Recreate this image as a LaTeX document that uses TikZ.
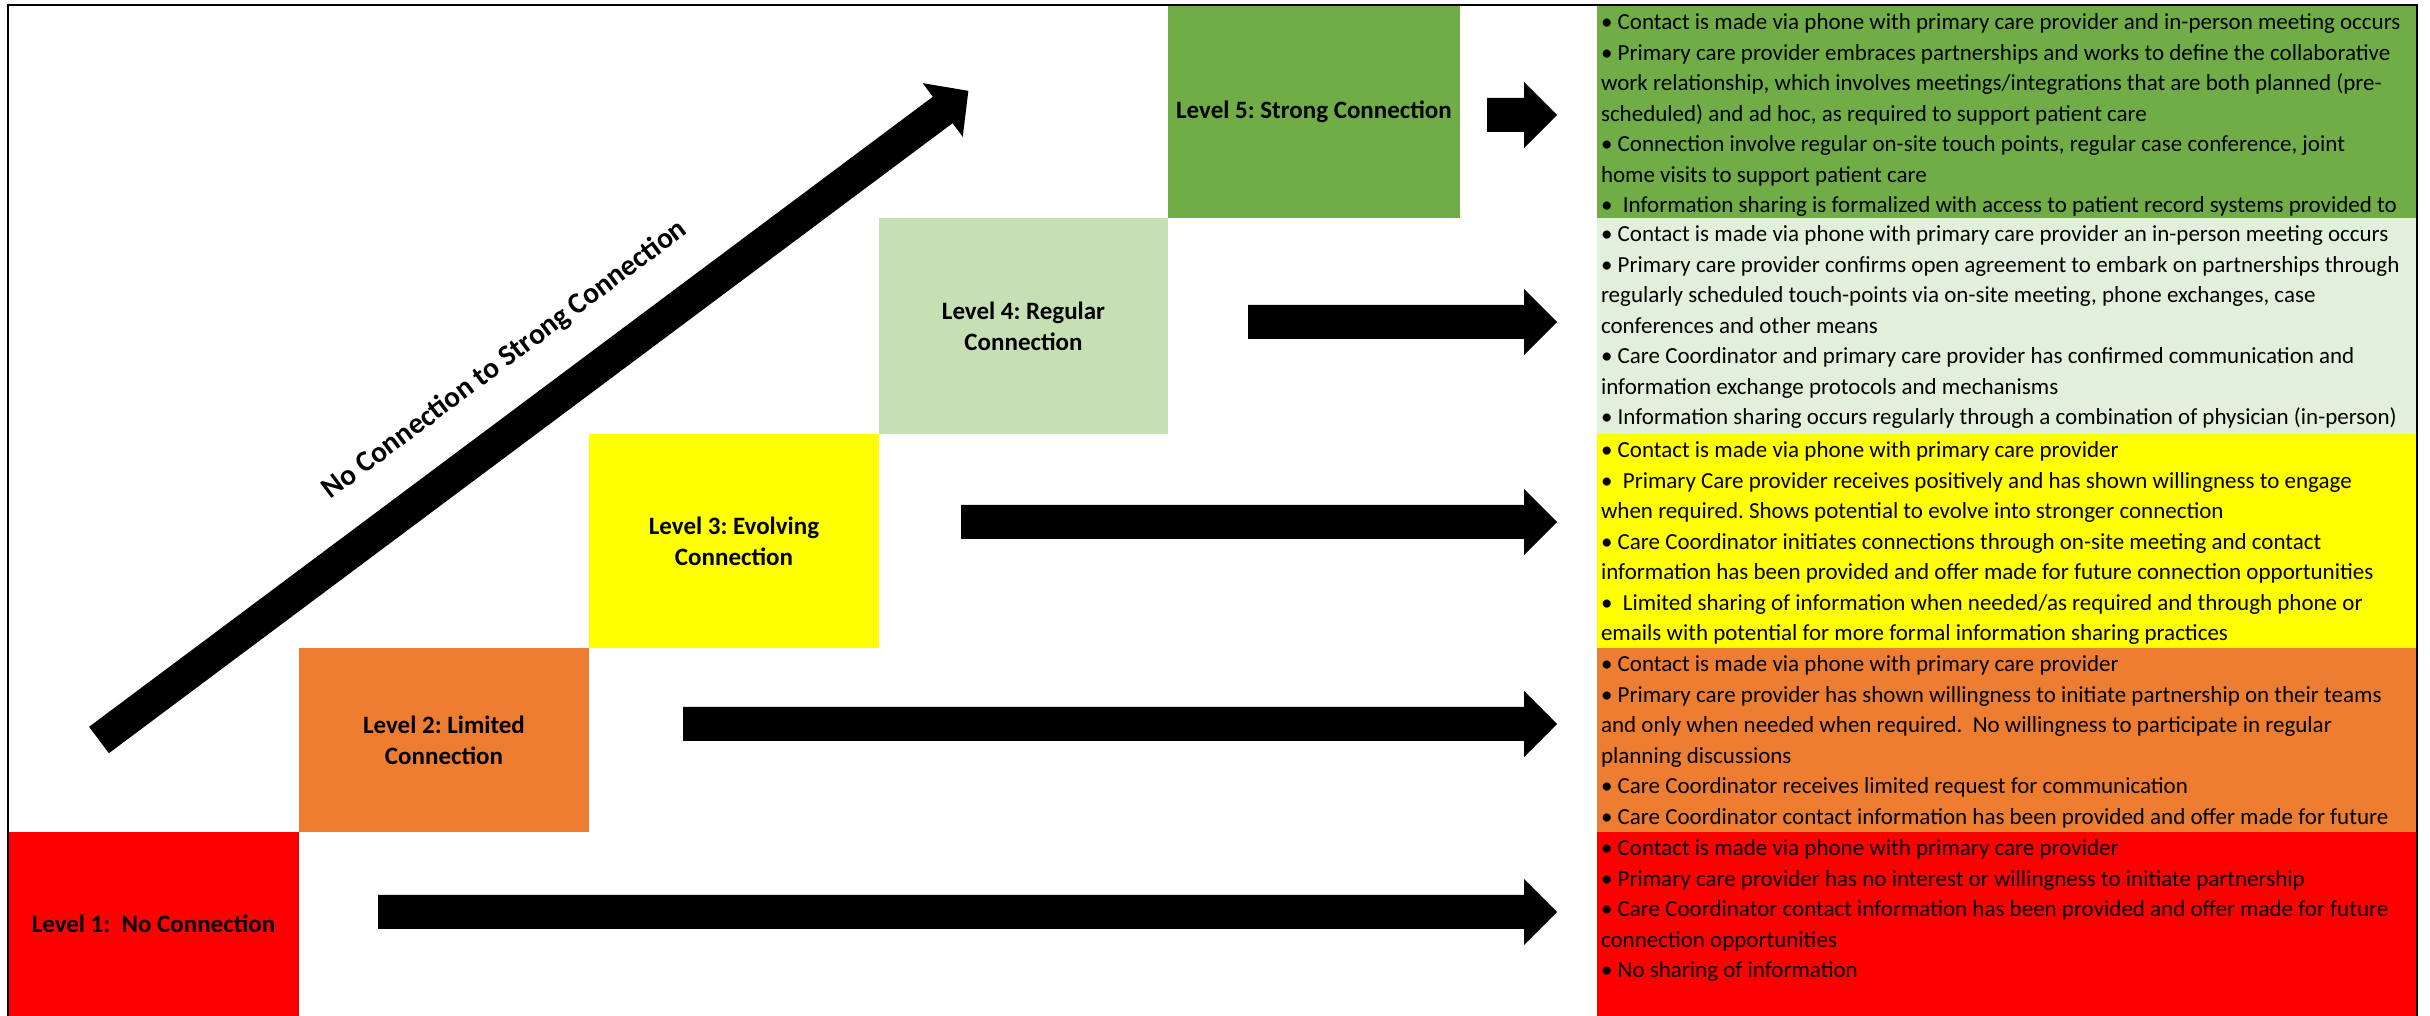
\documentclass[tikz,border=0pt]{standalone}
\usepackage{fontspec}
\setmainfont{Carlito}
\usetikzlibrary{calc}
\definecolor{cred}{HTML}{FF0000}
\definecolor{corange}{HTML}{ED7D31}
\definecolor{cyellow}{HTML}{FFFF00}
\definecolor{clgreen}{HTML}{C6E0B4}
\definecolor{clgreenT}{HTML}{E2EFDA}
\definecolor{cgreen}{HTML}{70AD47}
\frenchspacing
\newcommand\fl{\rule{0pt}{20pt}}
\newcommand\hblock[2]{\fill ($(#1)+(0,17)$) -- ($(#2)+(-33,17)$) -- ($(#2)+(-33,33)$) -- (#2) -- ($(#2)+(-33,-33)$) -- ($(#2)+(-33,-17)$) -- ($(#1)+(0,-17)$) -- cycle;}
\begin{document}
\begin{tikzpicture}[x=1pt,y=1pt,
  lvlbox/.style={inner sep=0pt, outer sep=0pt, align=center, anchor=south west, font=\fontsize{25}{31}\selectfont\bfseries},
  txtbox/.style={inner sep=0pt, outer sep=0pt, anchor=south west, minimum width=820pt},
  boxtext/.style={inner sep=0pt, outer sep=0pt, anchor=north west, align=left, font=\fontsize{23}{30.5}\selectfont},
  diaglabel/.style={inner sep=0pt, font=\fontsize{29.5}{34}\selectfont\bfseries}
]
\useasboundingbox (0,0) rectangle (2430,1016);

% level boxes
\node[lvlbox, fill=cred,    minimum width=291pt, minimum height=184pt] (l1) at (8,0)      {Level 1:\ \ No Connection};
\node[lvlbox, fill=corange, minimum width=290pt, minimum height=184pt] (l2) at (299,184)  {Level 2: Limited\\Connection};
\node[lvlbox, fill=cyellow, minimum width=290pt, minimum height=214pt] (l3) at (589,368)  {Level 3: Evolving\\Connection};
\node[lvlbox, fill=clgreen, minimum width=289pt, minimum height=216pt] (l4) at (879,582)  {Level 4: Regular\\Connection};
\node[lvlbox, fill=cgreen,  minimum width=292pt, minimum height=212pt] (l5) at (1168,798) {Level 5: Strong Connection};

% description boxes
\node[txtbox, fill=cgreen,   minimum height=212pt] (t5) at (1597,798) {};
\node[txtbox, fill=clgreenT, minimum height=216pt] (t4) at (1597,582) {};
\node[txtbox, fill=cyellow,  minimum height=214pt] (t3) at (1597,368) {};
\node[txtbox, fill=corange,  minimum height=184pt] (t2) at (1597,184) {};
\node[txtbox, fill=cred,     minimum height=184pt] (t1) at (1597,0)   {};

\begin{scope}
\clip (t5.south west) rectangle (t5.north east);
\node[boxtext] (x5) at ($(t5.north west)+(4,-4)$) {\fl• Contact is made via phone with primary care provider and in-person meeting occurs\\
• Primary care provider embraces partnerships and works to define the collaborative\\
work relationship, which involves meetings/integrations that are both planned (pre-\\
scheduled) and ad hoc, as required to support patient care\\
• Connection involve regular on-site touch points, regular case conference, joint\\
home visits to support patient care\\
•\ \ Information sharing is formalized with access to patient record systems provided to};
\end{scope}

\begin{scope}
\clip (t4.south west) rectangle (t4.north east);
\node[boxtext] (x4) at ($(t4.north west)+(4,-4)$) {\fl• Contact is made via phone with primary care provider an in-person meeting occurs\\
• Primary care provider confirms open agreement to embark on partnerships through\\
regularly scheduled touch-points via on-site meeting, phone exchanges, case\\
conferences and other means\\
• Care Coordinator and primary care provider has confirmed communication and\\
information exchange protocols and mechanisms\\
• Information sharing occurs regularly through a combination of physician (in-person)};
\end{scope}

\begin{scope}
\clip (t3.south west) rectangle (t3.north east);
\node[boxtext] (x3) at ($(t3.north west)+(4,-4)$) {\fl• Contact is made via phone with primary care provider\\
•\ \ Primary Care provider receives positively and has shown willingness to engage\\
when required. Shows potential to evolve into stronger connection\\
• Care Coordinator initiates connections through on-site meeting and contact\\
information has been provided and offer made for future connection opportunities\\
•\ \ Limited sharing of information when needed/as required and through phone or\\
emails with potential for more formal information sharing practices};
\end{scope}

\begin{scope}
\clip (t2.south west) rectangle (t2.north east);
\node[boxtext] (x2) at ($(t2.north west)+(4,-4)$) {\fl• Contact is made via phone with primary care provider\\
• Primary care provider has shown willingness to initiate partnership on their teams\\
and only when needed when required.\ \ No willingness to participate in regular\\
planning discussions\\
• Care Coordinator receives limited request for communication\\
• Care Coordinator contact information has been provided and offer made for future};
\end{scope}

\begin{scope}
\clip (t1.south west) rectangle (t1.north east);
\node[boxtext] (x1) at ($(t1.north west)+(4,-4)$) {\fl• Contact is made via phone with primary care provider\\
• Primary care provider has no interest or willingness to initiate partnership\\
• Care Coordinator contact information has been provided and offer made for future\\
connection opportunities\\
• No sharing of information};
\end{scope}

% horizontal block arrows
\coordinate (a5s) at (1487,901);
\coordinate (a4s) at (1248,694);
\coordinate (a3s) at (961,494);
\coordinate (a2s) at (683,292);
\coordinate (a1s) at (378,104);
\coordinate (a5e) at ($(t5.west |- a5s)+(-40,0)$);
\coordinate (a4e) at ($(t4.west |- a4s)+(-40,0)$);
\coordinate (a3e) at ($(t3.west |- a3s)+(-40,0)$);
\coordinate (a2e) at ($(t2.west |- a2s)+(-40,0)$);
\coordinate (a1e) at ($(t1.west |- a1s)+(-40,0)$);
\hblock{a5s}{a5e}
\hblock{a4s}{a4e}
\hblock{a3s}{a3e}
\hblock{a2s}{a2e}
\hblock{a1s}{a1e}

% diagonal arrow
\coordinate (dtail) at (99,276);
\begin{scope}[shift={(dtail)}, rotate=36.75]
\fill (0,-16.5) -- (1053,-16.5) -- (1053,-33.5) -- (1085,0) -- (1053,33.5) -- (1053,16.5) -- (0,16.5) -- cycle;
\coordinate (dtip) at (1085,0);
\end{scope}
\node[diaglabel, rotate=36.75] (dlabel) at (505,656) {No Connection to Strong Connection};

% frame
\draw[line width=2pt] (8,0) -- (8,1011) -- (2417,1011) -- (2417,0);
\end{tikzpicture}
\end{document}
